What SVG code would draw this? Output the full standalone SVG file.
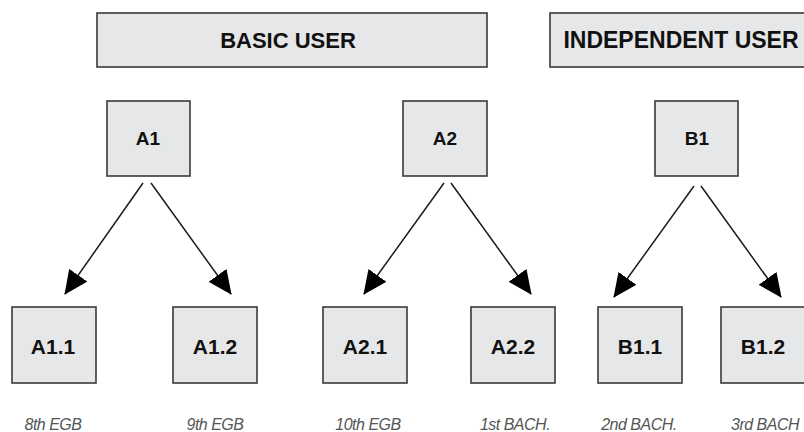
<svg xmlns="http://www.w3.org/2000/svg" width="804" height="432" viewBox="0 0 804 432">
<style>
.box{fill:#e6e7e8;stroke:#3a3a3a;stroke-width:1.6}
.hdr{font-family:"Liberation Sans",Arial,sans-serif;font-weight:bold;font-size:22px;fill:#111;text-anchor:middle}
.hdr2{font-size:23px}
.nl{font-family:"Liberation Sans",Arial,sans-serif;font-weight:bold;font-size:19px;fill:#111;text-anchor:middle}
.cl{font-family:"Liberation Sans",Arial,sans-serif;font-weight:bold;font-size:21px;fill:#111;text-anchor:middle}
.lab{font-family:"Liberation Sans",Arial,sans-serif;font-style:italic;font-size:16px;fill:#555;text-anchor:middle;letter-spacing:-0.5px}
.edge{stroke:#1a1a1a;stroke-width:1.5;fill:none;marker-end:url(#ah)}
</style>
<defs>
<marker id="ah" markerUnits="userSpaceOnUse" markerWidth="24" markerHeight="22" viewBox="0 0 24 22" refX="23" refY="11" orient="auto">
<path d="M0,0 L24,11 L0,22 Z" fill="#000"/>
</marker>
</defs>
<rect width="804" height="432" fill="#fff"/>
<g id="basic-user"><rect class="box" x="97" y="13" width="390" height="54"/><text class="hdr" x="288" y="48">BASIC USER</text></g>
<g id="independent-user"><rect class="box" x="550" y="13" width="260" height="54"/><text class="hdr hdr2" x="681" y="48">INDEPENDENT USER</text></g>
<g id="A1"><rect class="box" x="107" y="101" width="83" height="75"/><text class="nl" x="148" y="145">A1</text></g>
<g id="A2"><rect class="box" x="403" y="101" width="84" height="75"/><text class="nl" x="445" y="145">A2</text></g>
<g id="B1"><rect class="box" x="655" y="101" width="83" height="75"/><text class="nl" x="697" y="145">B1</text></g>
<g id="A1.1"><rect class="box" x="12" y="307" width="84" height="76"/><text class="cl" x="53" y="354">A1.1</text><text class="lab" x="53" y="430">8th EGB</text></g>
<g id="A1.2"><rect class="box" x="173" y="307" width="84" height="76"/><text class="cl" x="215" y="354">A1.2</text><text class="lab" x="215" y="430">9th EGB</text></g>
<g id="A2.1"><rect class="box" x="323" y="307" width="84" height="76"/><text class="cl" x="365" y="354">A2.1</text><text class="lab" x="368" y="430">10th EGB</text></g>
<g id="A2.2"><rect class="box" x="471" y="307" width="84" height="76"/><text class="cl" x="513" y="354">A2.2</text><text class="lab" x="515" y="430">1st BACH.</text></g>
<g id="B1.1"><rect class="box" x="598" y="307" width="84" height="76"/><text class="cl" x="640" y="354">B1.1</text><text class="lab" x="639" y="430">2nd BACH.</text></g>
<g id="B1.2"><rect class="box" x="721" y="307" width="90" height="76"/><text class="cl" x="763" y="354">B1.2</text><text class="lab" x="765" y="430">3rd BACH</text></g>
<g id="connectors">
<line class="edge" x1="143" y1="183" x2="65" y2="294"/>
<line class="edge" x1="151" y1="183" x2="231" y2="294"/>
<line class="edge" x1="444" y1="183" x2="364" y2="294"/>
<line class="edge" x1="451" y1="183" x2="531" y2="294"/>
<line class="edge" x1="694" y1="186" x2="614" y2="297"/>
<line class="edge" x1="701" y1="186" x2="781" y2="297"/>
</g>
</svg>
